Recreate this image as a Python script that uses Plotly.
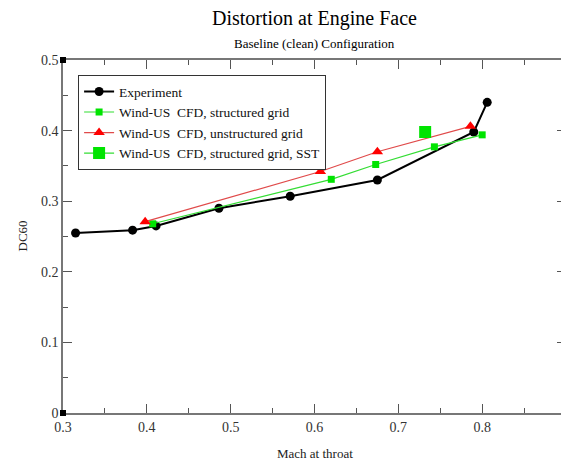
import plotly.graph_objects as go

# ---- data ----
exp_x = [0.315, 0.383, 0.411, 0.486, 0.571, 0.675, 0.790, 0.806]
exp_y = [0.255, 0.259, 0.265, 0.290, 0.307, 0.330, 0.398, 0.440]

str_x = [0.407, 0.620, 0.673, 0.743, 0.800]
str_y = [0.268, 0.331, 0.352, 0.377, 0.394]

uns_x = [0.398, 0.607, 0.675, 0.786]
uns_y = [0.271, 0.342, 0.370, 0.406]

sst_x = [0.732]
sst_y = [0.398]

x_ticks = [0.3, 0.4, 0.5, 0.6, 0.7, 0.8]
x_tick_text = ["0.3", "0.4", "0.5", "0.6", "0.7", "0.8"]
y_ticks = [0, 0.1, 0.2, 0.3, 0.4, 0.5]
y_tick_text = ["0", "0.1", "0.2", "0.3", "0.4", "0.5"]

FONT = "Liberation Serif"

fig = go.Figure()
fig.add_trace(go.Scatter(x=exp_x, y=exp_y, mode="lines+markers", name="Experiment",
                         line=dict(color="black", width=2),
                         marker=dict(symbol="circle", size=9, color="black")))
fig.add_trace(go.Scatter(x=str_x, y=str_y, mode="lines+markers",
                         name="Wind-US  CFD, structured grid",
                         line=dict(color="#33dd33", width=1.2),
                         marker=dict(symbol="square", size=7, color="#00e400")))
fig.add_trace(go.Scatter(x=uns_x, y=uns_y, mode="lines+markers",
                         name="Wind-US  CFD, unstructured grid",
                         line=dict(color="#e04a4a", width=1.2),
                         marker=dict(symbol="triangle-up", size=10, color="#ff0000")))
fig.add_trace(go.Scatter(x=sst_x, y=sst_y, mode="lines+markers",
                         name="Wind-US  CFD, structured grid, SST",
                         line=dict(color="#33dd33", width=1.2),
                         marker=dict(symbol="square", size=12, color="#00e400")))

axis_common = dict(
    showline=True, linecolor="#777777", linewidth=1.5, mirror="allticks",
    ticks="inside", ticklen=9, tickcolor="#555555", tickwidth=1,
    showgrid=False, zeroline=False,
    tickfont=dict(family=FONT, size=14, color="#333333"),
)

fig.update_xaxes(range=[0.3, 0.9], tickvals=x_ticks, ticktext=x_tick_text,
                 minor=dict(ticks="inside", ticklen=5, dtick=0.05, tick0=0.3,
                            tickcolor="#555555", showgrid=False),
                 **axis_common)
fig.update_yaxes(range=[0, 0.5], tickvals=y_ticks, ticktext=y_tick_text,
                 minor=dict(ticks="inside", ticklen=5, dtick=0.05, tick0=0,
                            tickcolor="#555555", showgrid=False),
                 **axis_common)

# corner squares (Grace frame artifacts)
shapes = []
for (px, py) in [(0, 0), (0, 1), (1, 0), (1, 1)]:
    shapes.append(dict(type="rect", xref="paper", yref="paper",
                       xsizemode="pixel", ysizemode="pixel",
                       xanchor=px, yanchor=py, x0=-3, x1=3, y0=-3, y1=3,
                       fillcolor="black", line=dict(width=0)))

annotations = [
    dict(text="Distortion at Engine Face", xref="paper", yref="paper",
         x=0.5, y=1, yshift=42, showarrow=False, xanchor="center", yanchor="middle",
         font=dict(family=FONT, size=20, color="black")),
    dict(text="Baseline (clean) Configuration", xref="paper", yref="paper",
         x=0.5, y=1, yshift=17, showarrow=False, xanchor="center", yanchor="middle",
         font=dict(family=FONT, size=13, color="black")),
    dict(text="Mach at throat", xref="paper", yref="paper",
         x=0.5, y=0, yshift=-40, showarrow=False, xanchor="center", yanchor="middle",
         font=dict(family=FONT, size=13, color="#222222")),
    dict(text="DC60", xref="paper", yref="paper", textangle=-90,
         x=0, y=0.5, xshift=-41, showarrow=False, xanchor="center", yanchor="middle",
         font=dict(family=FONT, size=13, color="#222222")),
]

# page body has an 8px margin; compensate so the plot lands where the reference has it
fig.update_layout(
    width=561, height=454,
    margin=dict(l=55, r=1, t=52, b=49),
    paper_bgcolor="white", plot_bgcolor="white",
    showlegend=True,
    legend=dict(x=0.03, y=0.957, xanchor="left", yanchor="top",
                bgcolor="white", bordercolor="#333333", borderwidth=1,
                font=dict(family="Times New Roman", size=13.5, color="#111111"),
                tracegroupgap=0, itemwidth=30),
    shapes=shapes,
    annotations=annotations,
    font=dict(family=FONT),
)

fig.write_html("out.html")
